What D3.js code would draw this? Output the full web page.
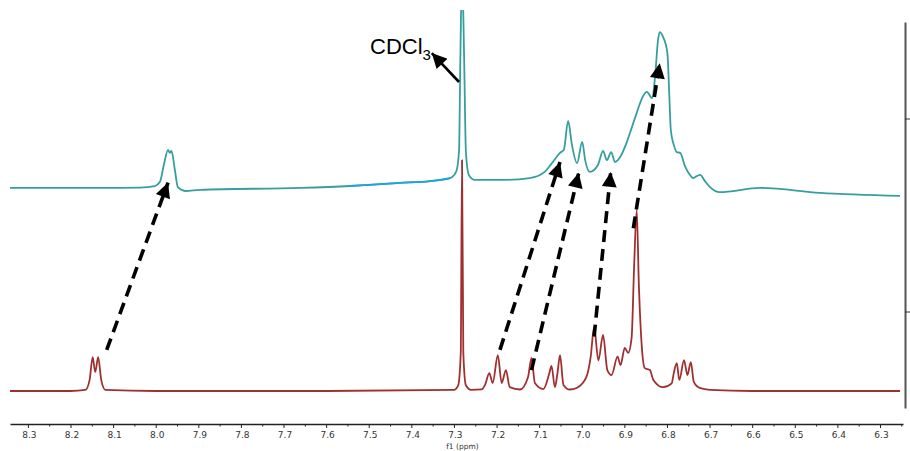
<!DOCTYPE html>
<html>
<head>
<meta charset="utf-8">
<script src="https://cdn.jsdelivr.net/npm/d3@7"></script>
<style>
  body { margin: 0; background: #fff; }
  svg { display: block; }
</style>
</head>
<body>
<div id="chart"></div>
<script>
// chemical shift (ppm) and intensity pairs
var lowerPpm = [8.342, 8.20, 8.165, 8.155, 8.148, 8.142, 8.135, 8.128, 8.118, 8.0, 7.6, 7.30, 7.29, 7.284, 7.281, 7.278, 7.272, 7.26,
    7.235, 7.227, 7.217, 7.209, 7.197, 7.188, 7.178, 7.169, 7.145, 7.126, 7.118, 7.110, 7.090, 7.076, 7.071, 7.063, 7.057, 7.051, 7.043, 7.028,
    7.012, 6.989, 6.979, 6.971, 6.961, 6.950, 6.940, 6.930, 6.916, 6.909, 6.899, 6.891, 6.883, 6.877, 6.871, 6.866, 6.859, 6.852, 6.840, 6.832,
    6.809, 6.789, 6.784, 6.777, 6.771, 6.760, 6.752, 6.744, 6.737, 6.723, 6.699, 6.6, 6.4, 6.253];
var lowerVal = [0, 0, 0.3, 3, 8.9, 5, 8.9, 3, 0.3, 0, 0, 0.3, 1.5, 10, 60.6, 10, 1.5, 0.3,
    0.4, 1.6, 4.7, 2.1, 9.4, 2.1, 5.5, 1, 0.4, 3.7, 8.7, 2.1, 0.5, 4.7, 6.6, 1, 4.7, 9.4, 1.6, 0.4,
    0.8, 3.7, 9, 16.8, 8, 14.7, 5.5, 4.2, 9, 6.8, 11.3, 10, 14, 33, 47.5, 28, 11.5, 6, 5.5, 2.9,
    1, 2, 4.7, 7.3, 2.9, 8.1, 4.2, 7.6, 2.4, 0.8, 0.3, 0, 0, 0];

var upperPpm = [8.342, 8.131, 8.037, 8.002, 7.990, 7.981, 7.971, 7.967, 7.963, 7.955, 7.948, 7.931, 7.896, 7.661, 7.544, 7.427, 7.356, 7.309,
    7.295, 7.288, 7.285, 7.281, 7.276, 7.272, 7.265, 7.251, 7.192, 7.122, 7.087, 7.070, 7.051, 7.042, 7.032, 7.023, 7.011, 6.999, 6.992,
    6.981, 6.962, 6.950, 6.941, 6.931, 6.922, 6.911, 6.894, 6.883, 6.871, 6.857, 6.847, 6.835, 6.828, 6.821, 6.817, 6.809, 6.799, 6.795,
    6.791, 6.784, 6.777, 6.769, 6.757, 6.746, 6.739, 6.730, 6.722, 6.711, 6.699, 6.676, 6.582, 6.441, 6.253];
var upperVal = [53.3, 53.3, 53.4, 53.8, 54.9, 59.3, 63.3, 62.5, 63, 58, 53.5, 52.5, 52.8, 53.3, 53.8, 54.6, 55.1, 55.9,
    57.5, 63, 86.9, 110, 86.9, 63, 56.7, 55.4, 55.4, 55.9, 57.5, 59.8, 62.5, 63.3, 70.9, 64.6, 59.8, 65.4, 60.6,
    57.5, 59.3, 63, 60.6, 62.7, 60.1, 61.2, 65.4, 69, 73, 77.2, 78.5, 76.9, 82.4, 92.1, 94.2, 92.9, 88.7, 79,
    68.5, 64.6, 62.7, 62.5, 58.8, 56.7, 55.9, 56.4, 56.7, 55.1, 53.5, 52.2, 53.3, 52, 51.2];

// part of the upper trace drawn in blue
var blueRange = [7.55, 7.305];

var xTicks = [8.3, 8.2, 8.1, 8.0, 7.9, 7.8, 7.7, 7.6, 7.5, 7.4, 7.3, 7.2, 7.1, 7.0, 6.9, 6.8, 6.7, 6.6, 6.5, 6.4, 6.3];
var xMinor = [8.25, 8.15, 8.05, 7.95, 7.85, 7.75, 7.65, 7.55, 7.45, 7.35, 7.25, 7.15, 7.05, 6.95, 6.85, 6.75, 6.65, 6.55, 6.45, 6.35, 6.25];
var rightTicks = [0.25, 0.75];

// dashed arrows: [from ppm, from value, to ppm, to value]
var shiftArrows = [
    [8.115, 10.8, 7.971, 54.7],
    [7.192, 10.8, 7.051, 60.1],
    [7.118, 5.5, 7.007, 57.3],
    [6.971, 14.3, 6.932, 57.5],
    [6.879, 42.7, 6.817, 86]
];
var solventArrow = [7.288, 81.1, 7.352, 88.7];
var solventLabel = [7.497, 88.5];

var width = 910, height = 451;

var svg = d3.select("#chart").append("svg")
    .attr("width", width)
    .attr("height", height);

var x = d3.scaleLinear()
    .domain([8.342, 6.246])
    .range([10, 903]);

var y = d3.scaleLinear()
    .domain([0, 100])
    .range([391, 10]);

var yRight = d3.scaleLinear()
    .domain([0, 1])
    .range([408, 22]);

svg.append("defs").append("clipPath")
    .attr("id", "plot-clip")
    .append("rect")
    .attr("x", 0).attr("y", 10)
    .attr("width", width).attr("height", 420);

svg.select("defs").append("marker")
    .attr("id", "head")
    .attr("viewBox", "0 0 10 10")
    .attr("refX", 10).attr("refY", 5)
    .attr("markerUnits", "userSpaceOnUse")
    .attr("markerWidth", 18).attr("markerHeight", 15)
    .attr("orient", "auto")
    .append("path")
    .attr("d", "M0,0L10,5L0,10Z")
    .style("fill", "#000");

var line = d3.line()
    .x(function(d) { return x(d[0]); })
    .y(function(d) { return y(d[1]); })
    .curve(d3.curveMonotoneX);

var lower = d3.zip(lowerPpm, lowerVal);
var upper = d3.zip(upperPpm, upperVal);
var upperBlue = upper.filter(function(d) { return d[0] <= blueRange[0] && d[0] >= blueRange[1]; });

var plot = svg.append("g").attr("clip-path", "url(#plot-clip)");

plot.append("path")
    .datum(lower)
    .attr("d", line)
    .style("fill", "none")
    .style("stroke", "#a0302f")
    .style("stroke-width", 1.8)
    .style("stroke-linejoin", "round");

plot.append("path")
    .datum(upper)
    .attr("d", line)
    .style("fill", "none")
    .style("stroke", "#379e9e")
    .style("stroke-width", 1.8)
    .style("stroke-linejoin", "round");

plot.append("path")
    .datum(upperBlue)
    .attr("d", line)
    .style("fill", "none")
    .style("stroke", "#1fa3dc")
    .style("stroke-width", 1.8);

//********** ARROWS ************
svg.selectAll(".shift")
    .data(shiftArrows)
    .enter().append("line")
    .attr("class", "shift")
    .attr("x1", function(d) { return x(d[0]); })
    .attr("y1", function(d) { return y(d[1]); })
    .attr("x2", function(d) { return x(d[2]); })
    .attr("y2", function(d) { return y(d[3]); })
    .style("stroke", "#000")
    .style("stroke-width", 3.6)
    .style("stroke-dasharray", "12,7")
    .attr("marker-end", "url(#head)");

svg.append("line")
    .attr("x1", x(solventArrow[0]))
    .attr("y1", y(solventArrow[1]))
    .attr("x2", x(solventArrow[2]))
    .attr("y2", y(solventArrow[3]))
    .style("stroke", "#000")
    .style("stroke-width", 2.6)
    .attr("marker-end", "url(#head)");

var label = svg.append("text")
    .attr("x", x(solventLabel[0]))
    .attr("y", y(solventLabel[1]))
    .style("font-family", "Liberation Sans, Arial, sans-serif")
    .style("font-size", "22px")
    .style("fill", "#000");
label.append("tspan").text("CDCl");
label.append("tspan").attr("dy", 6).style("font-size", "15px").text("3");

//********** AXES ************
var xAxis = svg.append("g")
    .attr("transform", "translate(0,424)")
    .call(d3.axisBottom(x).tickValues(xTicks).tickSize(4).tickSizeOuter(0)
        .tickFormat(function(d) { return d.toFixed(1); }));

svg.append("g")
    .attr("transform", "translate(0,424)")
    .call(d3.axisBottom(x).tickValues(xMinor).tickSize(2.5).tickFormat(""))
    .select(".domain").remove();

svg.selectAll(".tick line").style("stroke", "#222");
xAxis.select(".domain").style("stroke", "#222").style("stroke-width", 1.3);
xAxis.selectAll("text")
    .attr("dx", "1px")
    .attr("y", 8)
    .style("font-family", "DejaVu Sans, Verdana, sans-serif")
    .style("font-size", "9px")
    .style("fill", "#333");

svg.append("text")
    .attr("x", x(7.28))
    .attr("y", 449)
    .style("text-anchor", "middle")
    .style("font-family", "DejaVu Sans, Verdana, sans-serif")
    .style("font-size", "7.5px")
    .style("fill", "#333")
    .text("f1 (ppm)");

var rightAxis = svg.append("g")
    .attr("transform", "translate(905,0)")
    .call(d3.axisRight(yRight).tickValues(rightTicks).tickSize(5).tickSizeOuter(0).tickFormat(""));
rightAxis.select(".domain").style("stroke", "#555").style("stroke-width", 2);
rightAxis.selectAll(".tick line").style("stroke", "#333");
</script>
</body>
</html>
